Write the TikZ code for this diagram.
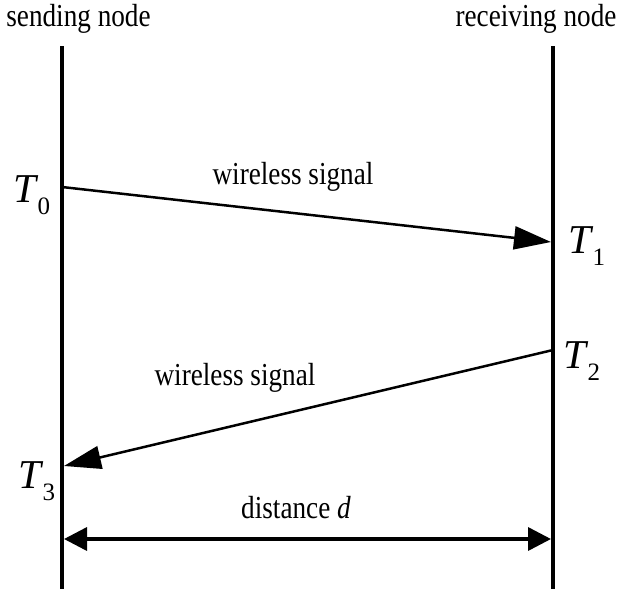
\documentclass[tikz,border=0pt]{standalone}
\usepackage{fontspec}
\setmainfont{Liberation Serif}
\usetikzlibrary{arrows.meta}
\newcommand{\lbl}[1]{\scalebox{0.85}[1]{\fontsize{32}{36}\selectfont #1}}
\newcommand{\tlab}[1]{{\fontsize{41}{46}\selectfont\itshape T}\kern1pt\raisebox{-12pt}{\fontsize{25}{28}\selectfont #1}}
\tikzset{
  lifeline/.style={line width=4pt},
  signal/.style={line width=2.5pt,-{Triangle[length=37pt,width=23pt]}},
  dist/.style={line width=3.5pt,{Triangle[length=23pt,width=23pt]}-{Triangle[length=23pt,width=23pt]}},
  txt/.style={inner sep=0pt,anchor=base},
  tl/.style={inner sep=0pt,anchor=base west}
}
\begin{document}
\begin{tikzpicture}[x=1pt,y=-1pt]
\useasboundingbox (0,0) rectangle (618,589);
% lifelines
\coordinate (Ltop) at (62,46);
\coordinate (Lbot) at (62,589);
\coordinate (Rtop) at (553,46);
\coordinate (Rbot) at (553,589);
\draw[lifeline] (Ltop) -- (Lbot);
\draw[lifeline] (Rtop) -- (Rbot);
% headers
\node[txt] (send) at (78.5,27) {\lbl{sending node}};
\node[txt] (recv) at (536,27) {\lbl{receiving node}};
% event points
\coordinate (p0) at (62,187);
\coordinate (p1) at (551,242);
\coordinate (p2) at (553,350);
\coordinate (p3) at (64,466);
\draw[signal] (p0) -- (p1);
\draw[signal] (p2) -- (p3);
\node[txt] (w1) at (293,184) {\lbl{wireless signal}};
\node[txt] (w2) at (235,385) {\lbl{wireless signal}};
% time labels
\node[tl] (T0) at (13.6,202) {\tlab{0}};
\node[tl] (T1) at (568.6,253) {\tlab{1}};
\node[tl] (T2) at (563.6,368) {\tlab{2}};
\node[tl] (T3) at (18.6,488) {\tlab{3}};
% distance
\coordinate (dl) at (64,539);
\coordinate (dr) at (551,539);
\draw[dist] (dl) -- (dr);
\node[txt] (dd) at (296,518) {\lbl{distance \textit{d}}};
\end{tikzpicture}
\end{document}
